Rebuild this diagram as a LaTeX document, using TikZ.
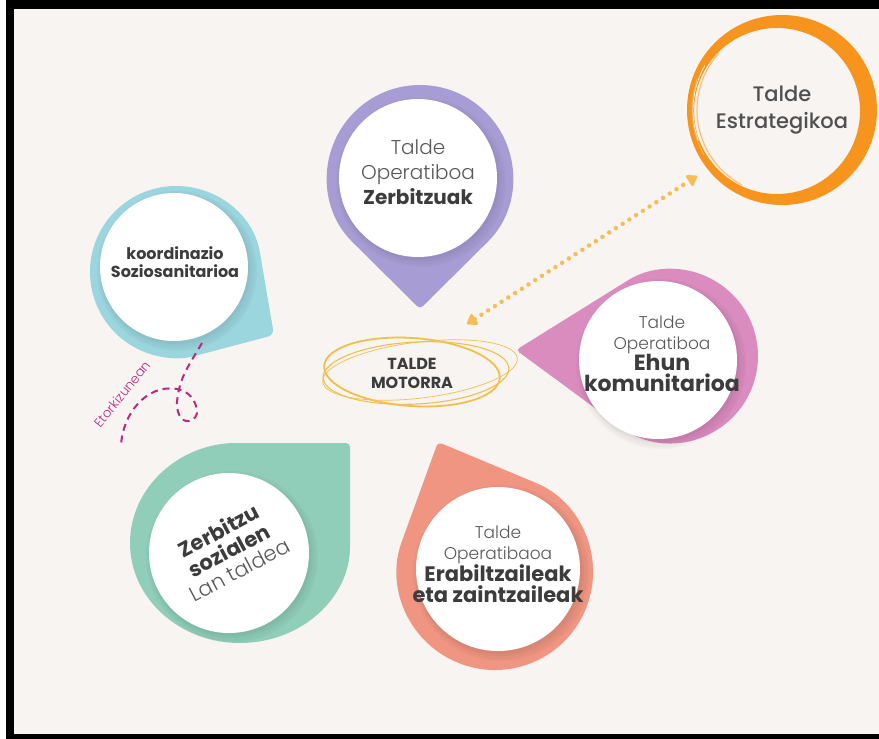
\documentclass[tikz,border=0pt]{standalone}
\usepackage{fontspec}
\setmainfont{Poppins}
\newfontfamily\lite{Poppins Light}
\newfontfamily\erdi{Poppins Medium}
\usetikzlibrary{arrows.meta}
\definecolor{krema}{HTML}{F8F4F1}
\definecolor{lila}{HTML}{A79DD4}
\definecolor{zian}{HTML}{9BD5DE}
\definecolor{arrosa}{HTML}{DA8CBF}
\definecolor{berde}{HTML}{90CEB9}
\definecolor{izokin}{HTML}{EF9582}
\definecolor{laranja}{HTML}{F7941E}
\definecolor{urre}{HTML}{F2BF4C}
\definecolor{puntu}{HTML}{F6BD57}
\definecolor{morea}{HTML}{B8297F}
\definecolor{testu}{HTML}{3C3C3C}
\definecolor{testuarg}{HTML}{595959}

\begin{document}
\begin{tikzpicture}[x=1pt,y=1pt,
	itzal/.style={black,opacity=.025},
	lbl/.style={align=center,text=testu,inner sep=0pt},
	ring/.style={urre,line width=1.3},
	]
		\useasboundingbox (0,0) rectangle (879,-739);
		\fill[white] (0,0) rectangle (879,-739);
		\fill[black] (6,0) rectangle (879,-739);
		\fill[krema] (14,-9) rectangle (879,-734);

		\fill[lila,rounded corners=4] (420,-309) -- ([shift={(420,-178)}]-45:93) arc[start angle=-45,end angle=225,radius=93] -- cycle;
		\fill[zian,rounded corners=6] (274,-335) -- ([shift={(176,-272)}]9.7:86) arc[start angle=9.7,end angle=284.8,radius=86] -- cycle;
		\fill[arrosa,rounded corners=4] (516,-350) -- ([shift={(671,-356)}]233.7:87) arc[start angle=233.7,end angle=481.9,radius=87] -- cycle;
		\fill[berde,rounded corners=4] (350,-543) -- (350,-443) -- (240,-443) arc[start angle=90,end angle=360,x radius=110,y radius=100] -- cycle;
		\fill[izokin,rounded corners=4] (438,-442) -- ([shift={(495,-572)}]160:98) arc[start angle=160,end angle=427.4,radius=98] -- cycle;

		\foreach \cx/\cy/\r in {418/-178/79,174/-267/74,658/-360/79,229/-553/80,498/-569/82}{
			\fill[itzal] (\cx+3,\cy-4) circle (\r+6);
			\fill[itzal] (\cx+3,\cy-4) circle (\r+4);
			\fill[itzal] (\cx+2,\cy-3) circle (\r+2);
			\fill[itzal] (\cx+1,\cy-2) circle (\r+1);
			\fill[white] (\cx,\cy) circle (\r);
		}

		\fill[laranja,even odd rule] (782,-110) circle (95) (777,-111) circle (83);
		\draw[laranja!60,line width=1.2] (782,-110) ++(-118:85) arc[start angle=-118,end angle=-222,radius=85];
		\draw[laranja!75,line width=1] (782,-110) ++(-150:90) arc[start angle=-150,end angle=-200,radius=90];
		\draw[krema,line width=.8] (782,-110) ++(150:89) arc[start angle=150,end angle=200,radius=89];

		\draw[ring,line width=1.8] (412,-372) ellipse[x radius=88,y radius=34,rotate=-4];
		\draw[ring,line width=1.1] (416,-373) ellipse[x radius=93,y radius=31,rotate=3];
		\draw[ring,line width=.7] (420,-370) ellipse[x radius=98,y radius=28,rotate=7];

		\node[lbl,font=\fontsize{20}{25}\selectfont] (zerb) at (418,-172) {{\lite\color{testuarg}Talde}\\{\lite\color{testuarg}Operatiboa}\\\textbf{Zerbitzuak}};
		\node[lbl,font=\fontsize{16}{18}\selectfont] (koord) at (175,-262) {\textbf{koordinazio}\\\textbf{Soziosanitarioa}};
		\node[lbl,font=\erdi\fontsize{21}{27}\selectfont,text=testu!90] (estrat) at (782,-110) {Talde\\Estrategikoa};
		\node[lbl,font=\fontsize{16}{19}\selectfont] (motor) at (412,-373) {\textbf{TALDE}\\\textbf{MOTORRA}};
		\node[lbl,font=\fontsize{17}{21}\selectfont] (ehun) at (662,-354) {{\lite\color{testuarg}Talde}\\{\lite\color{testuarg}Operatiboa}\\{\fontsize{22}{22}\selectfont\textbf{Ehun}}\\{\fontsize{22}{22}\selectfont\textbf{komunitarioa}}};
		\node[lbl,font=\fontsize{17}{21}\selectfont] (erab) at (498,-564) {{\lite\color{testuarg}Talde}\\{\lite\color{testuarg}Operatibaoa}\\{\fontsize{21}{20}\selectfont\textbf{Erabiltzaileak}}\\{\fontsize{21}{20}\selectfont\textbf{eta zaintzaileak}}};
		\node[lbl,font=\fontsize{21}{22}\selectfont,rotate=28] (lan) at (229,-550) {\textbf{Zerbitzu}\\\textbf{sozialen}\\{\lite\color{testuarg}Lan taldea}};
		\node[text=morea,font=\lite\fontsize{13}{13}\selectfont,rotate=51,inner sep=0pt] (etor) at (122,-394) {Etorkizunean};

		\coordinate (motA) at (467,-324);
		\coordinate (estA) at (697,-176);
		\draw[puntu,line width=4.5,line cap=round,dash pattern=on 0pt off 8pt,
			{Triangle[round,length=11,width=14]}-{Triangle[round,length=11,width=14]}] (motA) -- (estA);

		\coordinate (etA) at (202,-343);
		\coordinate (etB) at (121,-446);
		\draw[morea,line width=2,dash pattern=on 7pt off 5pt] (etA) to[out=-120,in=85] (177,-402) to[out=-95,in=190] (189,-421) to[out=10,in=-80] (197,-410) to[out=100,in=-10] (177,-389) to[out=170,in=88] (etB);
	\end{tikzpicture}
\end{document}
